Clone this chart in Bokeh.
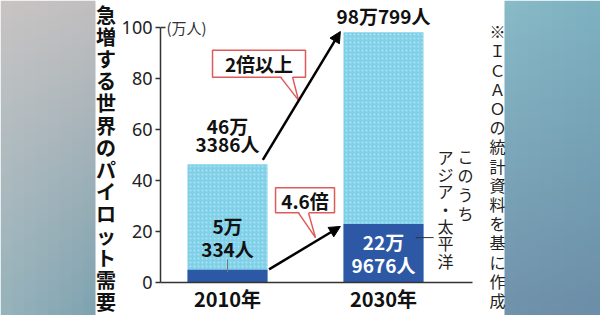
import numpy as np
from bokeh.plotting import figure
from bokeh.layouts import row
from bokeh.models import Range1d, FixedTicker, Arrow, NormalHead, ColumnDataSource
from bokeh.core.properties import value
from bokeh.embed import file_html
from bokeh.resources import INLINE

# ---------------- data ----------------
years = ["2010年", "2030年"]
xpos = [0, 1]
total = [46.3386, 98.0799]          # 万人
asia = [5.0334, 22.9676]            # 万人 (Asia-Pacific)
total_labels = ["46万\n3386人", "98万799人"]
asia_labels = ["5万\n334人", "22万\n9676人"]
y_ticks = [0, 20, 40, 60, 80, 100]
ratio_labels = ["2倍以上", "4.6倍"]
title = "急増する世界のパイロット需要"
note = "※ＩＣＡＯの統計資料を基に作成"
asia_note = ["このうち", "アジア・太平洋"]
unit_label = "(万人)"

JP = "Noto Sans CJK JP"
PX = 156.0                 # pixels per x unit
YPX = 2.56                 # pixels per y unit
BW = 80 / PX               # bar width
X0 = -67 / PX              # left end of x range
H = 315


def column(x, y_first, s, step):
    """One text per character, stacked downward (vertical writing)."""
    chars = list(s)
    return dict(x=[x] * len(chars), y=[y_first - i * step for i in range(len(chars))], text=chars)


def gradient(tl, tr, bl, br, ny=64, nx=8):
    arr = np.empty((ny, nx), dtype=np.uint32)
    v = arr.view(dtype=np.uint8).reshape((ny, nx, 4))
    tl, tr, bl, br = [np.array(c, dtype=float) for c in (tl, tr, bl, br)]
    for i in range(ny):
        t = i / (ny - 1)  # 0 bottom, 1 top
        for j in range(nx):
            s = j / (nx - 1)
            c = (bl * (1 - s) + br * s) * (1 - t) + (tl * (1 - s) + tr * s) * t
            v[i, j, :3] = c.astype(np.uint8)
            v[i, j, 3] = 255
    return arr


def strip(width, img_x, img_w, grad):
    f = figure(width=width, height=H, x_range=Range1d(0, width), y_range=Range1d(0, H),
               toolbar_location=None, output_backend="svg", min_border=0,
               min_border_left=0, min_border_right=0, min_border_top=0, min_border_bottom=0,
               x_axis_location=None, y_axis_location=None, frame_align=False)
    f.grid.visible = False
    f.outline_line_color = None
    f.background_fill_color = "white"
    f.border_fill_color = "white"
    f.image_rgba(image=[grad], x=img_x, y=0, dw=img_w, dh=H)
    return f


# ---------------- left strip + title ----------------
left = strip(116, 0, 95, gradient((200, 196, 196), (194, 191, 192), (150, 178, 187), (128, 164, 178)))
left.text(source=ColumnDataSource(column(105.5, H - (3 + 22.1 * 0.5), title, 22.1)),
          x="x", y="y", text="text", text_font=value(JP), text_font_style="bold",
          text_font_size="20px", text_align="center", text_baseline="middle", text_color="#111111")

# ---------------- right strip + source note ----------------
right = strip(116, 20, 96, gradient((136, 186, 199), (126, 178, 193), (112, 146, 171), (108, 142, 168)))
right.text(source=ColumnDataSource(column(13, H - (21 + 19.2 * 0.5), note, 19.2)),
           x="x", y="y", text="text", text_font=value(JP), text_font_size="16px",
           text_align="center", text_baseline="middle", text_color="#222222")

# ---------------- main chart ----------------
p = figure(width=368, height=H, x_range=Range1d(X0, X0 + 324 / PX), y_range=Range1d(0, 283 / YPX),
           toolbar_location=None, output_backend="svg", frame_align=False,
           min_border_left=44, min_border_right=0, min_border_top=0, min_border_bottom=32)
p.grid.visible = False
p.outline_line_color = None
p.background_fill_color = "white"
p.border_fill_color = "white"

src = ColumnDataSource(dict(x=xpos, total=total, asia=asia))
p.vbar(x="x", top="total", bottom=0, width=BW, source=src, fill_color="#80d0e8", line_color=None,
       hatch_pattern="dot", hatch_color="#aee2f2", hatch_scale=4, hatch_weight=1)
p.vbar(x="x", top="asia", bottom=0, width=BW, source=src, fill_color="#2c58a6", line_color=None)

# axes
p.xaxis.ticker = FixedTicker(ticks=xpos)
p.xaxis.major_label_overrides = {xpos[i]: years[i] for i in range(2)}
p.xaxis.bounds = (X0, X0 + 312 / PX)
p.xaxis.major_tick_out = 0
p.xaxis.major_tick_in = 0
p.xaxis.minor_tick_out = 0
p.xaxis.minor_tick_in = 0
p.xaxis.major_label_standoff = 1
p.xaxis.major_label_text_font = JP
p.xaxis.major_label_text_font_style = "bold"
p.xaxis.major_label_text_font_size = "20px"
p.xaxis.major_label_text_color = "#111111"
p.xaxis.axis_line_color = "#333333"
p.xaxis.axis_line_width = 1.5

p.yaxis.ticker = FixedTicker(ticks=y_ticks)
p.yaxis.bounds = (0, 100)
p.yaxis.major_tick_out = 5
p.yaxis.major_tick_in = 0
p.yaxis.minor_tick_out = 0
p.yaxis.minor_tick_in = 0
p.yaxis.major_label_standoff = 3
p.yaxis.major_label_text_font = "Noto Sans"
p.yaxis.major_label_text_font_size = "18px"
p.yaxis.major_label_text_color = "#222222"
p.yaxis.axis_line_color = "#333333"
p.yaxis.axis_line_width = 1.5
p.yaxis.major_tick_line_color = "#333333"
p.yaxis.major_tick_line_width = 1.5

# unit label and top tick
p.segment(x0=[X0], y0=[y_ticks[-1]], x1=[X0 + 5 / PX], y1=[y_ticks[-1]], line_color="#333333", line_width=1.5)
p.text(x=[X0 + 6 / PX], y=[y_ticks[-1]], text=[unit_label], text_font=value(JP), text_font_size="15px",
       text_align="left", text_baseline="middle", text_color="#333333")


# value labels (one text per line)
def lines_at(x, y_bottom_center, label, step):
    ls = label.split("\n")
    n = len(ls)
    return dict(x=[x] * n, y=[y_bottom_center + (n - 1 - k) * step for k in range(n)], text=ls)


def merge(ds):
    out = dict(x=[], y=[], text=[])
    for d in ds:
        for k in out:
            out[k] += d[k]
    return out


LAB = "19px"
top_src = ColumnDataSource(merge([lines_at(xpos[0], total[0] + 8.1, total_labels[0], 7.1),
                                  lines_at(xpos[1], total[1] + 6.7, total_labels[1], 7.1)]))
p.text(source=top_src, x="x", y="y", text="text", text_font=value(JP), text_font_style="bold",
       text_font_size=LAB, text_align="center", text_baseline="middle", text_color="#111111")

a0 = ColumnDataSource(lines_at(xpos[0], asia[0] + 8.4, asia_labels[0], 9.1))
p.text(source=a0, x="x", y="y", text="text", text_font=value(JP), text_font_style="bold",
       text_font_size=LAB, text_align="center", text_baseline="middle", text_color="#111111")
p.segment(x0=[xpos[0]], y0=[asia[0] + 4.0], x1=[xpos[0]], y1=[asia[0] - 1.0], line_color="#777777", line_width=1)

a1 = ColumnDataSource(lines_at(xpos[1], asia[1] / 2 - 4.4, asia_labels[1], 8.8))
p.text(source=a1, x="x", y="y", text="text", text_font=value(JP), text_font_style="bold",
       text_font_size=LAB, text_align="center", text_baseline="middle", text_color="white")

# arrows
p.add_layout(Arrow(end=NormalHead(size=11, fill_color="black", line_color="black"),
                   x_start=xpos[0] + BW / 2 - 0.03, y_start=total[0] + 1.7,
                   x_end=xpos[1] - BW / 2 - 0.02, y_end=total[1] + 0.3,
                   line_width=2.5, line_color="black"))
p.add_layout(Arrow(end=NormalHead(size=11, fill_color="black", line_color="black"),
                   x_start=xpos[0] + BW / 2 + 0.01, y_start=asia[0] + 0.1,
                   x_end=xpos[1] - BW / 2 - 0.02, y_end=asia[1] - 1.0,
                   line_width=2.5, line_color="black"))

# callouts (layout in data units)
callouts = [
    dict(l=-0.096, r=0.500, b=80.5, t=91.0, bx=(0.340, 0.417), tip=(0.455, 71.5)),
    dict(l=0.308, r=0.686, b=27.3, t=37.1, bx=(0.455, 0.519), tip=(0.564, 17.6)),
]
RED = "#e05a5a"
for c, lab in zip(callouts, ratio_labels):
    p.quad(left=[c["l"]], right=[c["r"]], bottom=[c["b"]], top=[c["t"]], fill_color="white",
           line_color=RED, line_width=1.5)
    p.patch(x=[c["bx"][0], c["bx"][1], c["tip"][0]], y=[c["b"] + 0.6, c["b"] + 0.6, c["tip"][1]],
            fill_color="white", line_color=None)
    p.multi_line(xs=[[c["bx"][0], c["tip"][0]], [c["bx"][1], c["tip"][0]]],
                 ys=[[c["b"], c["tip"][1]], [c["b"], c["tip"][1]]], line_color=RED, line_width=1.5)
    p.text(x=[(c["l"] + c["r"]) / 2], y=[(c["b"] + c["t"]) / 2], text=[lab], text_font=value(JP),
           text_font_style="bold", text_font_size="19px", text_align="center", text_baseline="middle",
           text_color="#111111")

# Asia-Pacific note (vertical)
p.text(source=ColumnDataSource(column(1.526, 49.4, asia_note[0], 19 / YPX)), x="x", y="y", text="text",
       text_font=value(JP), text_font_size="16px", text_align="center", text_baseline="middle",
       text_color="#222222")
p.text(source=ColumnDataSource(column(1.397, 49.3, asia_note[1], 17.4 / YPX)), x="x", y="y", text="text",
       text_font=value(JP), text_font_size="16px", text_align="center", text_baseline="middle",
       text_color="#222222")
p.segment(x0=[xpos[1] + BW / 2 - 0.05], y0=[17.6], x1=[xpos[1] + BW / 2 + 0.065], y1=[17.6],
          line_color="#333333", line_width=1)

layout = row(left, p, right, spacing=0)
open("out.html", "w").write(file_html(layout, INLINE))
